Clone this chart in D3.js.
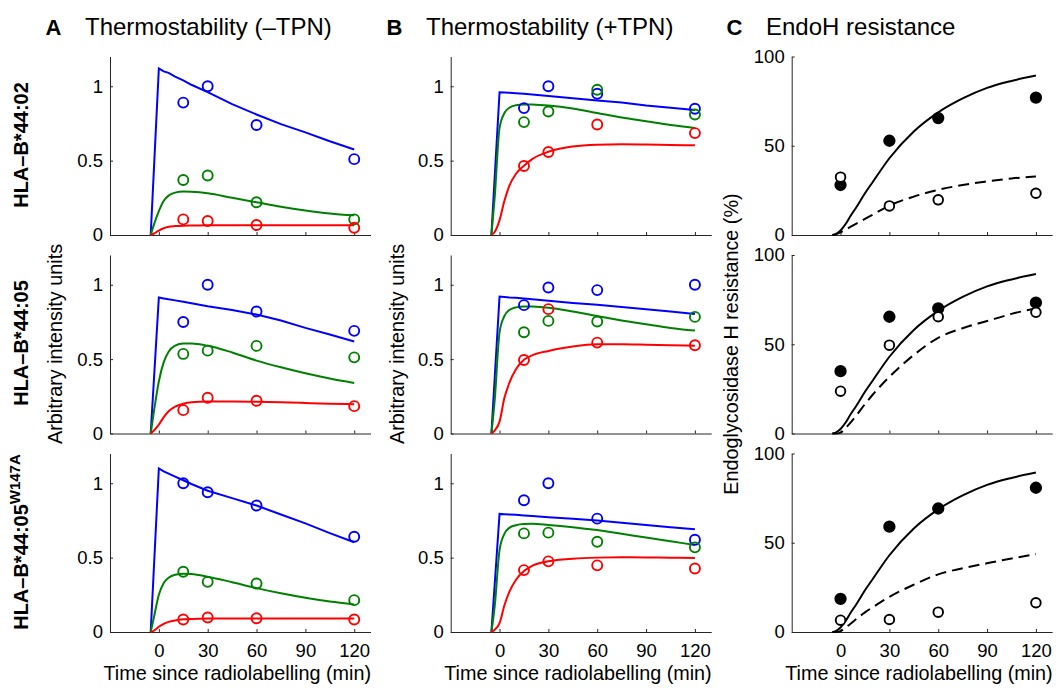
<!DOCTYPE html>
<html>
<head>
<meta charset="utf-8">
<script src="https://cdn.jsdelivr.net/npm/d3@7"></script>
<style>
body { margin: 0; background: #fff; }
svg { font-family: "Liberation Sans", Arial, Helvetica, sans-serif; }
</style>
</head>
<body>
<div id="main"></div>
<script>
var ctx = {
    w: 1061,
    h: 688,
    colLeft: [110, 450.7, 791.7],
    axisW: 260.5,
    rowTop: [56.5, 255, 453.5],
    axisH: 178.5,
    tickFont: 18.5,
    labelFont: 19.8
};

// time axes (min)
var tickTimes = [0, 30, 60, 90, 120];
var sampleTimes = [15, 30, 60, 120];
var endoTimes = [0, 30, 60, 120];
var fitTimes = [-5, -3, 0, 3, 6, 10, 15, 20, 30, 45, 60, 75, 90, 105, 120];

var rowLabels = ["HLA\u2013B*44:02", "HLA\u2013B*44:05", "HLA\u2013B*44:05"];
var rowSup = ["", "", "W147A"];
var panelLetters = ["A", "B", "C"];
var panelTitles = ["Thermostability (\u2013TPN)", "Thermostability (+TPN)", "EndoH resistance"];
var thermoTicks = [0, 0.5, 1];
var endoTicks = [0, 50, 100];

// A: thermostability -TPN, one array per row
var minusBluePts = [[0.89, 1.0, 0.74, 0.51], [0.75, 1.0, 0.82, 0.69], [1.0, 0.94, 0.85, 0.64]];
var minusGreenPts = [[0.37, 0.40, 0.22, 0.105], [0.535, 0.557, 0.589, 0.512], [0.405, 0.337, 0.326, 0.214]];
var minusRedPts = [[0.105, 0.094, 0.067, 0.049], [0.157, 0.24, 0.22, 0.184], [0.084, 0.097, 0.092, 0.084]];
var minusBlueFit = [
    [0, 0.448, 1.12, 1.10, 1.09, 1.065, 1.04, 1.01, 0.96, 0.88, 0.81, 0.745, 0.69, 0.63, 0.575],
    [0, 0.366, 0.914, 0.908, 0.902, 0.895, 0.885, 0.875, 0.855, 0.83, 0.80, 0.76, 0.71, 0.665, 0.618],
    [0, 0.44, 1.10, 1.08, 1.065, 1.045, 1.02, 0.995, 0.95, 0.90, 0.85, 0.79, 0.73, 0.665, 0.603]
];
var minusGreenFit = [
    [0, 0.07, 0.16, 0.23, 0.265, 0.285, 0.292, 0.29, 0.28, 0.25, 0.22, 0.19, 0.165, 0.145, 0.132],
    [0, 0.15, 0.35, 0.48, 0.55, 0.59, 0.605, 0.605, 0.59, 0.545, 0.49, 0.445, 0.405, 0.37, 0.34],
    [0, 0.1, 0.25, 0.33, 0.365, 0.385, 0.392, 0.39, 0.372, 0.335, 0.295, 0.26, 0.23, 0.205, 0.185]
];
var minusRedFit = [
    [0, 0.01, 0.03, 0.045, 0.055, 0.06, 0.063, 0.064, 0.065, 0.065, 0.065, 0.065, 0.065, 0.065, 0.065],
    [0, 0.02, 0.06, 0.11, 0.15, 0.18, 0.2, 0.21, 0.215, 0.215, 0.213, 0.21, 0.205, 0.2, 0.197],
    [0, 0.01, 0.035, 0.055, 0.068, 0.078, 0.085, 0.088, 0.09, 0.09, 0.09, 0.09, 0.09, 0.09, 0.09]
];

// B: thermostability +TPN
var plusBluePts = [[0.853, 1.0, 0.95, 0.849], [0.863, 0.982, 0.964, 1.0], [0.886, 1.0, 0.762, 0.62]];
var plusGreenPts = [[0.759, 0.83, 0.976, 0.81], [0.681, 0.757, 0.753, 0.784], [0.663, 0.668, 0.607, 0.569]];
var plusRedPts = [[0.464, 0.558, 0.743, 0.685], [0.494, 0.836, 0.611, 0.593], [0.416, 0.475, 0.448, 0.427]];
var plusBlueFit = [
    [0, 0.384, 0.96, 0.958, 0.956, 0.953, 0.949, 0.945, 0.935, 0.92, 0.905, 0.89, 0.87, 0.855, 0.84],
    [0, 0.368, 0.921, 0.918, 0.915, 0.912, 0.907, 0.902, 0.893, 0.878, 0.865, 0.85, 0.835, 0.82, 0.804],
    [0, 0.316, 0.794, 0.792, 0.79, 0.788, 0.784, 0.78, 0.772, 0.762, 0.75, 0.735, 0.72, 0.705, 0.69]
];
var plusGreenFit = [
    [0, 0.25, 0.72, 0.82, 0.855, 0.872, 0.878, 0.877, 0.87, 0.85, 0.82, 0.79, 0.765, 0.74, 0.72],
    [0, 0.22, 0.68, 0.79, 0.83, 0.848, 0.854, 0.853, 0.845, 0.82, 0.79, 0.76, 0.735, 0.71, 0.692],
    [0, 0.17, 0.55, 0.66, 0.7, 0.718, 0.726, 0.727, 0.72, 0.705, 0.685, 0.66, 0.635, 0.61, 0.585]
];
var plusRedFit = [
    [0, 0.02, 0.1, 0.23, 0.33, 0.41, 0.465, 0.51, 0.56, 0.595, 0.607, 0.61, 0.608, 0.605, 0.603],
    [0, 0.02, 0.08, 0.24, 0.34, 0.43, 0.495, 0.525, 0.555, 0.585, 0.6, 0.6, 0.597, 0.593, 0.59],
    [0, 0.015, 0.06, 0.18, 0.27, 0.35, 0.41, 0.445, 0.475, 0.493, 0.5, 0.502, 0.501, 0.5, 0.498]
];

// C: EndoH resistance (%)
var endoFilledPts = [[28, 52.8, 65.5, 77], [34.9, 65.4, 70.1, 73.3], [18.6, 59, 69.2, 80.8]];
var endoOpenPts = [[32.4, 16.3, 19.7, 23.4], [23.7, 49.5, 65.4, 67.9], [6.6, 7, 11.1, 16.4]];
var endoSolidFit = [
    [0, 0.5, 2.5, 6, 10.5, 16, 23.4, 30, 43, 58, 68.7, 76.5, 82.4, 86.3, 89.3],
    [0, 0.5, 2.5, 6, 10.5, 16, 23.4, 30, 43, 58, 68.7, 76.5, 82.4, 86.3, 89.3],
    [0, 0.5, 2.5, 6, 10.5, 16, 23.4, 30, 43, 58, 68.7, 76.5, 82.4, 86.3, 89.3]
];
var endoDashedFit = [
    [0, 0.5, 1.5, 3, 4.5, 6.5, 9, 11.5, 16.5, 21.5, 25.3, 28, 30, 31.7, 32.8],
    [0, 0, 0.5, 3, 6, 10.5, 16.5, 22, 31.7, 44, 53.6, 59, 63, 67, 70.1],
    [0, 0, 0.5, 2.5, 4.5, 7.5, 11, 14, 19.7, 26.5, 32.3, 35.7, 38.5, 41.2, 43.6]
];

var svg = d3.select("#main").append("svg")
    .attr("width", ctx.w)
    .attr("height", ctx.h);

var xScale = function(c) {
    return d3.scaleLinear().domain([-30, 130])
        .range([ctx.colLeft[c], ctx.colLeft[c] + ctx.axisW]);
};
var yScale = function(c, r) {
    var top = ctx.rowTop[r];
    return d3.scaleLinear().domain(c < 2 ? [0, 1.2] : [0, 100])
        .range([top + ctx.axisH, top]);
};

var styleAxis = function(g) {
    g.attr("font-family", null).attr("font-size", null);
    g.select(".domain").attr("stroke", "#262626");
    g.selectAll(".tick line").attr("stroke", "#262626");
    g.selectAll(".tick text").attr("fill", "#000").style("font-size", ctx.tickFont + "px");
};

var drawCurve = function(g, x, y, values, colour, curve, dash) {
    var line = d3.line()
        .x(function(d, i) { return x(fitTimes[i]); })
        .y(function(d) { return y(d); })
        .curve(curve);
    g.append("path")
        .datum(values)
        .attr("d", line)
        .attr("fill", "none")
        .attr("stroke", colour)
        .attr("stroke-width", 2)
        .attr("stroke-dasharray", dash || null);
};

var drawDots = function(g, x, y, times, values, stroke, fill, rad) {
    g.selectAll(null)
        .data(values)
        .enter()
        .append("circle")
        .attr("cx", function(d, i) { return x(times[i]); })
        .attr("cy", function(d) { return y(d); })
        .attr("r", rad)
        .attr("fill", fill)
        .attr("stroke", stroke)
        .attr("stroke-width", 1.9);
};

for (var r = 0; r < 3; r++) {
    for (var c = 0; c < 3; c++) {
        var x = xScale(c), y = yScale(c, r);
        var g = svg.append("g");

        var gx = g.append("g")
            .attr("transform", "translate(0," + y.range()[0] + ")")
            .call(d3.axisBottom(x).tickValues(tickTimes).tickSizeInner(-3).tickSizeOuter(0).tickPadding(12));
        styleAxis(gx);
        if (r < 2) gx.selectAll(".tick text").remove();

        var gy = g.append("g")
            .attr("transform", "translate(" + x.range()[0] + ",0)")
            .call(d3.axisLeft(y).tickValues(c < 2 ? thermoTicks : endoTicks)
                .tickSizeInner(-3).tickSizeOuter(0).tickPadding(7).tickFormat(d3.format("")));
        styleAxis(gy);

        if (c === 0) {
            drawCurve(g, x, y, minusBlueFit[r], "#0000ff", d3.curveLinear);
            drawCurve(g, x, y, minusGreenFit[r], "#008000", d3.curveMonotoneX);
            drawCurve(g, x, y, minusRedFit[r], "#ff0000", d3.curveMonotoneX);
            drawDots(g, x, y, sampleTimes, minusBluePts[r], "#0000ff", "none", 5);
            drawDots(g, x, y, sampleTimes, minusGreenPts[r], "#008000", "none", 5);
            drawDots(g, x, y, sampleTimes, minusRedPts[r], "#ff0000", "none", 5);
        } else if (c === 1) {
            drawCurve(g, x, y, plusBlueFit[r], "#0000ff", d3.curveLinear);
            drawCurve(g, x, y, plusGreenFit[r], "#008000", d3.curveMonotoneX);
            drawCurve(g, x, y, plusRedFit[r], "#ff0000", d3.curveMonotoneX);
            drawDots(g, x, y, sampleTimes, plusBluePts[r], "#0000ff", "none", 5);
            drawDots(g, x, y, sampleTimes, plusGreenPts[r], "#008000", "none", 5);
            drawDots(g, x, y, sampleTimes, plusRedPts[r], "#ff0000", "none", 5);
        } else {
            drawCurve(g, x, y, endoSolidFit[r], "#000", d3.curveMonotoneX);
            drawCurve(g, x, y, endoDashedFit[r], "#000", d3.curveMonotoneX, "11,6");
            drawDots(g, x, y, endoTimes, endoFilledPts[r], "#000", "#000", 5.2);
            drawDots(g, x, y, endoTimes, endoOpenPts[r], "#000", "#fff", 4.8);
        }

        if (r === 2) {
            g.append("text")
                .attr("x", (x.range()[0] + x.range()[1]) / 2 - 3)
                .attr("y", 680)
                .attr("text-anchor", "middle")
                .style("font-size", ctx.labelFont + "px")
                .text("Time since radiolabelling (min)");
        }
    }
}

// panel titles
var titleX = [45.5, 386.5, 726.5];
panelLetters.forEach(function(letter, i) {
    svg.append("text")
        .attr("x", titleX[i]).attr("y", 34.5)
        .style("font-size", "22px").style("font-weight", "bold")
        .text(letter);
    svg.append("text")
        .attr("x", titleX[i] + 39.5).attr("y", 34.5)
        .style("font-size", "24px")
        .text(panelTitles[i]);
});

// row labels
var rowCentre = [145, 343, 542];
rowLabels.forEach(function(label, i) {
    var t = svg.append("text")
        .attr("transform", "translate(28," + rowCentre[i] + ") rotate(-90)")
        .attr("text-anchor", "middle")
        .style("font-size", "20px").style("font-weight", "bold")
        .text(label);
    if (rowSup[i]) {
        t.append("tspan").attr("dy", -8).style("font-size", "15px").text(rowSup[i]);
    }
});

// y axis labels (middle row)
var yLabelX = [62, 404, 738];
var yLabels = ["Arbitrary intensity units", "Arbitrary intensity units", "Endoglycosidase H resistance (%)"];
yLabels.forEach(function(label, i) {
    svg.append("text")
        .attr("transform", "translate(" + yLabelX[i] + ",344) rotate(-90)")
        .attr("text-anchor", "middle")
        .style("font-size", ctx.labelFont + "px")
        .text(label);
});
</script>
</body>
</html>
